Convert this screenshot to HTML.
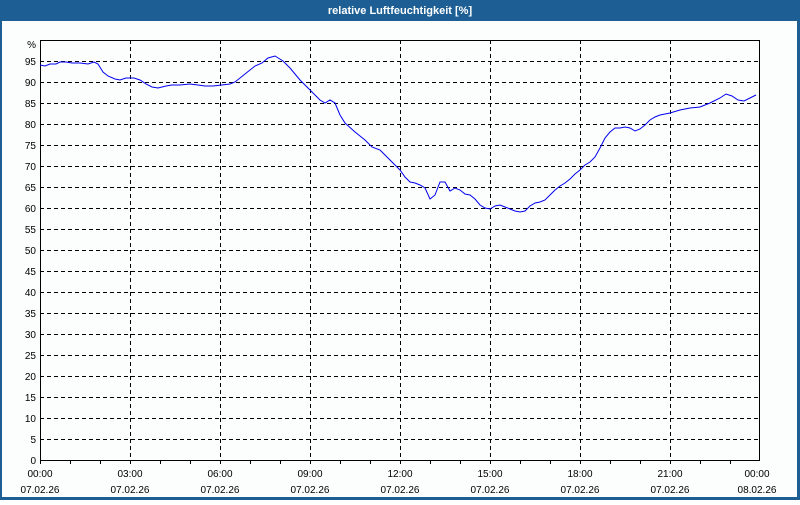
<!DOCTYPE html>
<html><head><style>
html,body{margin:0;padding:0;background:#fff}
body{width:800px;height:500px;overflow:hidden;position:relative;font-family:"Liberation Sans",sans-serif}
</style></head><body>
<svg width="800" height="500" xmlns="http://www.w3.org/2000/svg" font-family="Liberation Sans, sans-serif">
<rect x="0" y="0" width="800" height="500" fill="#1d5f94"/>
<rect x="2" y="21" width="795" height="476" fill="#fcfdfd"/>
<text x="400" y="14" fill="#fff" font-size="11" font-weight="bold" text-anchor="middle">relative Luftfeuchtigkeit [%]</text>
<g stroke="#000" stroke-width="1" stroke-dasharray="4,3" shape-rendering="crispEdges">
<line x1="40" x2="760" y1="61.5" y2="61.5"/><line x1="40" x2="760" y1="82.5" y2="82.5"/><line x1="40" x2="760" y1="103.5" y2="103.5"/><line x1="40" x2="760" y1="124.5" y2="124.5"/><line x1="40" x2="760" y1="145.5" y2="145.5"/><line x1="40" x2="760" y1="166.5" y2="166.5"/><line x1="40" x2="760" y1="187.5" y2="187.5"/><line x1="40" x2="760" y1="208.5" y2="208.5"/><line x1="40" x2="760" y1="229.5" y2="229.5"/><line x1="40" x2="760" y1="250.5" y2="250.5"/><line x1="40" x2="760" y1="271.5" y2="271.5"/><line x1="40" x2="760" y1="292.5" y2="292.5"/><line x1="40" x2="760" y1="313.5" y2="313.5"/><line x1="40" x2="760" y1="334.5" y2="334.5"/><line x1="40" x2="760" y1="355.5" y2="355.5"/><line x1="40" x2="760" y1="376.5" y2="376.5"/><line x1="40" x2="760" y1="397.5" y2="397.5"/><line x1="40" x2="760" y1="418.5" y2="418.5"/><line x1="40" x2="760" y1="439.5" y2="439.5"/>
<line x1="130.5" x2="130.5" y1="40" y2="460"/><line x1="220.5" x2="220.5" y1="40" y2="460"/><line x1="310.5" x2="310.5" y1="40" y2="460"/><line x1="400.5" x2="400.5" y1="40" y2="460"/><line x1="490.5" x2="490.5" y1="40" y2="460"/><line x1="580.5" x2="580.5" y1="40" y2="460"/><line x1="670.5" x2="670.5" y1="40" y2="460"/>
</g>
<rect x="40.5" y="40.5" width="719" height="420" fill="none" stroke="#000" stroke-width="1" shape-rendering="crispEdges"/>
<g stroke="#000" shape-rendering="crispEdges">
<line x1="70.5" x2="70.5" y1="460" y2="464"/><line x1="100.5" x2="100.5" y1="460" y2="464"/><line x1="130.5" x2="130.5" y1="460" y2="464"/><line x1="160.5" x2="160.5" y1="460" y2="464"/><line x1="190.5" x2="190.5" y1="460" y2="464"/><line x1="220.5" x2="220.5" y1="460" y2="464"/><line x1="250.5" x2="250.5" y1="460" y2="464"/><line x1="280.5" x2="280.5" y1="460" y2="464"/><line x1="310.5" x2="310.5" y1="460" y2="464"/><line x1="340.5" x2="340.5" y1="460" y2="464"/><line x1="370.5" x2="370.5" y1="460" y2="464"/><line x1="400.5" x2="400.5" y1="460" y2="464"/><line x1="430.5" x2="430.5" y1="460" y2="464"/><line x1="460.5" x2="460.5" y1="460" y2="464"/><line x1="490.5" x2="490.5" y1="460" y2="464"/><line x1="520.5" x2="520.5" y1="460" y2="464"/><line x1="550.5" x2="550.5" y1="460" y2="464"/><line x1="580.5" x2="580.5" y1="460" y2="464"/><line x1="610.5" x2="610.5" y1="460" y2="464"/><line x1="640.5" x2="640.5" y1="460" y2="464"/><line x1="670.5" x2="670.5" y1="460" y2="464"/><line x1="700.5" x2="700.5" y1="460" y2="464"/><line x1="730.5" x2="730.5" y1="460" y2="464"/><line x1="40.5" x2="40.5" y1="460" y2="464"/>
</g>
<g font-size="10" fill="#000" text-anchor="end">
<text x="36" y="48">%</text>
<text x="36" y="65">95</text><text x="36" y="86">90</text><text x="36" y="107">85</text><text x="36" y="128">80</text><text x="36" y="149">75</text><text x="36" y="170">70</text><text x="36" y="191">65</text><text x="36" y="212">60</text><text x="36" y="233">55</text><text x="36" y="254">50</text><text x="36" y="275">45</text><text x="36" y="296">40</text><text x="36" y="317">35</text><text x="36" y="338">30</text><text x="36" y="359">25</text><text x="36" y="380">20</text><text x="36" y="401">15</text><text x="36" y="422">10</text><text x="36" y="443">5</text><text x="36" y="464">0</text>
</g>
<g font-size="10" fill="#000" text-anchor="middle">
<text x="40" y="477">00:00</text><text x="40" y="493">07.02.26</text>
<text x="130" y="477">03:00</text><text x="130" y="493">07.02.26</text>
<text x="220" y="477">06:00</text><text x="220" y="493">07.02.26</text>
<text x="310" y="477">09:00</text><text x="310" y="493">07.02.26</text>
<text x="400" y="477">12:00</text><text x="400" y="493">07.02.26</text>
<text x="490" y="477">15:00</text><text x="490" y="493">07.02.26</text>
<text x="580" y="477">18:00</text><text x="580" y="493">07.02.26</text>
<text x="670" y="477">21:00</text><text x="670" y="493">07.02.26</text>
<text x="757" y="477">00:00</text><text x="757" y="493">08.02.26</text>
</g>
<polyline fill="none" stroke="#0000ee" stroke-width="1" points="40,65 45,66 50,64 56,64 60,62 66,62 72,63 80,63 88,64 94,62 98,64 103,72 108,76 115,79 120,80 126,78 134,78 140,80 146,84 152,87 158,88 166,86 172,85 180,85 190,84 198,85 205,86 213,86 230,84 235,82 245,74 255,66 262,63 268,58 275,56 283,61 290,68 300,80 310,90 320,100 325,103 330,100 335,103 340,115 345,123 355,132 365,140 372,147 380,150 390,160 395,165 400,170 405,177 410,182 415,183 420,185 425,188 430,199 435,195 440,182 445,182 450,191 455,188 460,190 465,194 470,195 475,199 480,205 485,208 490,209 495,206 500,205 505,207 510,209 515,211 520,212 525,211 530,206 535,203 540,202 545,200 550,195 555,190 560,186 565,183 570,179 575,174 580,170 585,165 590,162 595,157 600,148 605,138 610,132 615,128 620,128 625,127 630,128 635,131 640,129 645,125 650,120 655,117 660,115 670,113 680,110 690,108 700,107 710,103 720,98 726,94 732,96 738,100 744,101 750,98 756,95"/>
</svg>
</body></html>
